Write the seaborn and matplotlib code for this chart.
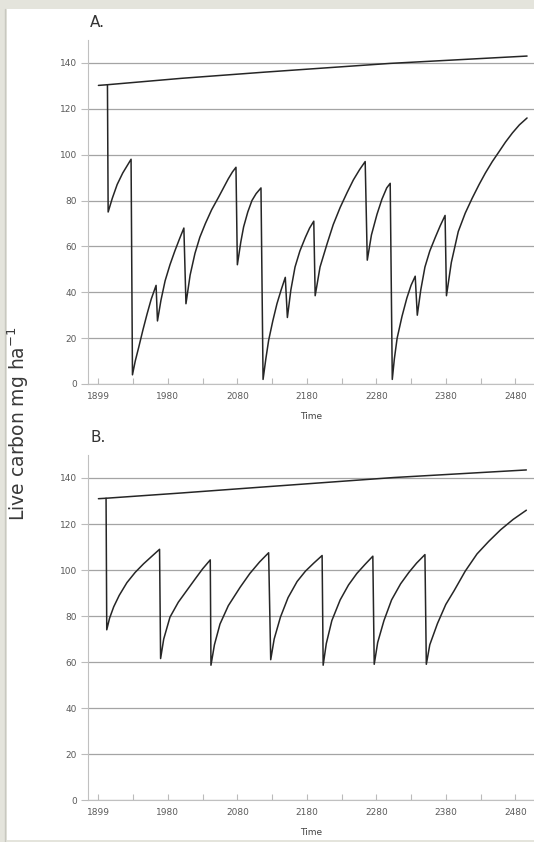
import numpy as np
import pandas as pd
import seaborn as sns
import matplotlib.pyplot as plt
from matplotlib.patches import Rectangle

# Panel A: live carbon, harvest with fire
a_top_year = [1880, 1893, 2000, 2120, 2300, 2497]
a_top_carbon = [130.2, 130.5, 133.3, 136.0, 139.8, 143.0]

a_year = [1893, 1894, 1900, 1907, 1915, 1922, 1927,
          1929, 1933, 1938, 1944, 1950, 1956, 1963,
          1965, 1970, 1976, 1983, 1990, 1997, 2003,
          2006, 2012, 2019, 2026, 2034, 2043, 2053, 2060, 2067, 2073, 2078,
          2080, 2085, 2089, 2095, 2101, 2107, 2114,
          2117, 2121, 2125, 2131, 2137, 2143, 2149,
          2152, 2157, 2163, 2170, 2178, 2184, 2190,
          2192, 2199, 2209, 2218, 2228, 2238, 2247, 2256, 2264,
          2267, 2273, 2281, 2288, 2295, 2300,
          2303, 2306, 2310, 2317, 2324, 2330, 2336,
          2339, 2344, 2350, 2357, 2365, 2372, 2379,
          2381, 2388, 2398, 2408, 2418, 2428, 2437, 2447, 2456, 2466, 2476, 2486, 2497]
a_carbon = [130.5, 75, 81, 87, 92, 95.5, 98,
            4, 10, 16, 23.5, 30.5, 37, 43,
            27.5, 36.5, 45, 52, 58, 63.5, 68,
            35, 47.5, 57, 64, 70, 76, 81.5, 85.5, 89.5, 92.5, 94.5,
            52, 62, 68.5, 75, 80, 83, 85.5,
            2, 11, 19, 27.5, 35, 41, 46.5,
            29, 41, 51, 58, 64, 68, 71,
            38.5, 51, 61, 69.5, 77, 83.5, 89, 93.5, 97,
            54, 65, 74, 80.5, 85.5, 87.5,
            2, 11, 20, 29.5, 37.5, 43, 47,
            30, 41, 51, 58, 64, 69, 73.5,
            38.5, 53, 66.5, 74.5, 81, 87, 92, 97, 101, 105.5, 109.5, 113, 116]

# Panel B: live carbon, harvest only
b_top_year = [1880, 1891, 2000, 2113, 2305, 2496]
b_top_carbon = [131.0, 131.2, 133.5, 136.0, 140.2, 143.5]

b_year = [1891, 1892, 1896, 1902, 1910, 1921, 1933, 1945, 1957, 1968,
          1969.5, 1974, 1983, 1995, 2007, 2019, 2030, 2041,
          2042, 2047, 2055, 2067, 2084, 2098, 2112, 2125,
          2128, 2133, 2142, 2153, 2166, 2178, 2190, 2202,
          2203.5, 2208, 2216, 2228, 2240, 2252, 2264, 2275,
          2277, 2282, 2291, 2302, 2315, 2327, 2338, 2350,
          2352, 2357, 2368, 2380, 2392, 2408, 2425, 2442, 2459, 2477, 2496]
b_carbon = [131.2, 74, 79, 84, 89, 94.5, 99, 102.7, 106, 109,
            61.5, 70, 79.5, 86, 91, 96, 100.5, 104.4,
            58.6, 67.5, 76.5, 84.5, 92.5, 98.5, 103.5, 107.5,
            61, 70, 79.5, 88, 95, 99.5, 103, 106.3,
            58.6, 68, 78, 87, 93.5, 98.5, 102.5, 106,
            59, 68.5, 78, 87, 94, 99, 103, 106.7,
            59, 67.5, 76.7, 85, 91, 99.5, 107, 112.5, 117.5, 122, 126]

tick_pos = [1880, 1980, 2080, 2180, 2280, 2380, 2480]
tick_labels = ["1899", "1980", "2080", "2180", "2280", "2380", "2480"]
y_ticks = [0, 20, 40, 60, 80, 100, 120, 140]

sns.set_style("white")
plt.rcParams['font.family'] = ['DejaVu Sans']

fig = plt.figure(figsize=(5.34, 8.42), dpi=100)
fig.patch.set_facecolor('#e4e4dc')
# white card inside the beige frame, kept behind the axes
card = Rectangle((7 / 534, 2 / 842), 527 / 534, 831 / 842,
                 transform=fig.transFigure, facecolor='white',
                 edgecolor='none', zorder=-10)
fig.patches.append(card)
fig.add_artist(plt.Line2D([5 / 534, 5 / 534], [0, 833 / 842],
                          transform=fig.transFigure, color='#c8c8c0', lw=1,
                          zorder=-9))

ax_a = fig.add_axes([88 / 534, 1 - 384 / 842, 446 / 534, 344 / 842])
ax_b = fig.add_axes([88 / 534, 1 - 800 / 842, 446 / 534, 345 / 842])

line_col = '#262626'
panels = [
    (ax_a, a_top_year, a_top_carbon, a_year, a_carbon, "A."),
    (ax_b, b_top_year, b_top_carbon, b_year, b_carbon, "B."),
]
for ax, ty, tc, yr, cb, label in panels:
    ax.set_facecolor('none')
    sns.lineplot(x=ty, y=tc, ax=ax, color=line_col, lw=1.1, sort=False, estimator=None)
    sns.lineplot(x=yr, y=cb, ax=ax, color=line_col, lw=1.1, sort=False, estimator=None)
    ax.set_xlim(1865, 2507)
    ax.set_ylim(0, 150)
    ax.set_yticks(y_ticks)
    ax.set_yticklabels([str(v) for v in y_ticks])
    ax.set_xticks(tick_pos)
    ax.set_xticklabels(tick_labels)
    ax.set_xticks([1930, 2030, 2130, 2230, 2330, 2430], minor=True)
    ax.yaxis.grid(True, color='#a4a4a4', lw=0.9)
    ax.set_axisbelow(True)
    ax.tick_params(axis='y', length=5, width=0.8, color='#bbbbbb',
                   labelsize=6.5, labelcolor='#5a5a5a', pad=3, left=True)
    ax.tick_params(axis='x', which='both', direction='in', length=4, width=0.8,
                   color='#bbbbbb', labelsize=6.5, labelcolor='#5a5a5a', pad=6,
                   bottom=True)
    for side in ['top', 'right']:
        ax.spines[side].set_visible(False)
    for side in ['left', 'bottom']:
        ax.spines[side].set_color('#c0c0c0')
        ax.spines[side].set_linewidth(0.8)
    ax.set_xlabel("Time", fontsize=6.5, color='#444444', labelpad=8)
    ax.set_ylabel("")
    ax.text(0.005, 1.03, label, transform=ax.transAxes, fontsize=11,
            color='#333333', ha='left', va='bottom')

fig.text(18 / 534, 1 - 424 / 842, "Live carbon mg ha$^{-1}$", rotation=90,
         fontsize=13.5, color='#3a3a3a', ha='center', va='center')

fig.savefig("out.png", dpi=100, facecolor=fig.get_facecolor())
